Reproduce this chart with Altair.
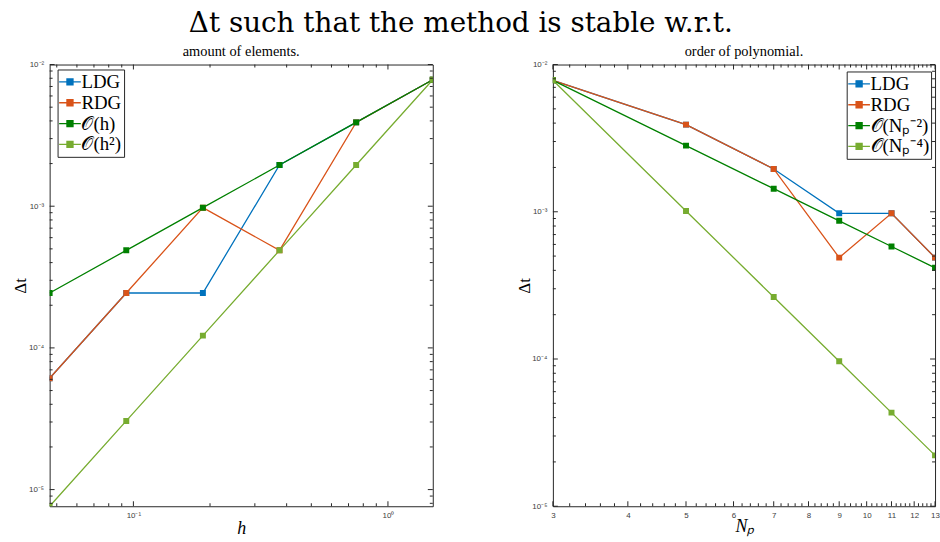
import altair as alt
import pandas as pd

# ---------------- data ----------------
h_vals = [0.046875, 0.09375, 0.1875, 0.375, 0.75, 1.5]
ldg_h = [6.1035e-5, 2.4414e-4, 2.4414e-4, 1.9531e-3, 3.9063e-3, 7.8125e-3]
rdg_h = [6.1035e-5, 2.4414e-4, 9.7656e-4, 4.8828e-4, 3.9063e-3, 7.8125e-3]
oh_h = [2.4414e-4, 4.8828e-4, 9.7656e-4, 1.9531e-3, 3.9063e-3, 7.8125e-3]
oh2_h = [7.6294e-6, 3.0518e-5, 1.2207e-4, 4.8828e-4, 1.9531e-3, 7.8125e-3]

np_vals = [3, 5, 7, 9, 11, 13]
ldg_n = [7.8125e-3, 3.9063e-3, 1.9531e-3, 9.7656e-4, 9.7656e-4, 4.8828e-4]
rdg_n = [7.8125e-3, 3.9063e-3, 1.9531e-3, 4.8828e-4, 9.7656e-4, 4.8828e-4]
on2_n = [7.8125e-3, 2.8125e-3, 1.4349e-3, 8.6806e-4, 5.8110e-4, 4.1605e-4]
on4_n = [7.8125e-3, 1.0125e-3, 2.6356e-4, 9.6451e-5, 4.3222e-5, 2.2157e-5]

names_h = ["LDG", "RDG", "𝒪(h)", "𝒪(h²)"]
names_n = ["LDG", "RDG", "𝒪(Nₚ⁻²)", "𝒪(Nₚ⁻⁴)"]
colors = ["#0072BD", "#D95319", "#008000", "#77AC30"]

# tick positions
h_major = [0.1, 1.0]
h_minor = [0.05, 0.06, 0.07, 0.08, 0.09, 0.2, 0.3, 0.4, 0.5, 0.6, 0.7, 0.8, 0.9]
dt_major = [1e-5, 1e-4, 1e-3, 1e-2]
dt_minor_left = [8e-6, 9e-6] + [m * d for d in [1e-5, 1e-4, 1e-3] for m in range(2, 10)]
dt_minor_right = [m * d for d in [1e-5, 1e-4, 1e-3] for m in range(2, 10)]
n_major = [3, 4, 5, 6, 7, 8, 9, 10, 11, 12, 13]
n_minor = [round(a + b / 10, 1) for a in range(3, 13) for b in (2, 4, 6, 8)]

AX = "#262626"
LBL = "#404040"
SERIF = "Liberation Serif"
TSERIF = "DejaVu Serif"
SANS = "Liberation Sans"
SUP = "'10' + ['⁻⁶','⁻⁵','⁻⁴','⁻³','⁻²','⁻¹','⁰'][round(log(datum.value)/LN10)+6]"

W1, W2, H = 386, 385, 445


def long_df(xs, series, names):
    rows = []
    for name, ys in zip(names, series):
        for x, y in zip(xs, ys):
            rows.append({"x": x, "y": y, "s": name})
    return pd.DataFrame(rows)


def tick_layers(xs, ys, xaxis, yaxis, xmaj, xmin, ymaj, ymin, W):
    layers = []
    for vals, L in [(xmaj, 5), (xmin, 3)]:
        base = alt.Chart(pd.DataFrame({"x": vals})).mark_rule(color=AX, strokeWidth=1)
        xe = alt.X("x:Q", scale=xs, axis=xaxis)
        layers.append(base.encode(x=xe, y=alt.value(H), y2=alt.value(H - L)))
        layers.append(base.encode(x=xe, y=alt.value(0), y2=alt.value(L)))
    for vals, L in [(ymaj, 5), (ymin, 3)]:
        base = alt.Chart(pd.DataFrame({"y": vals})).mark_rule(color=AX, strokeWidth=1)
        ye = alt.Y("y:Q", scale=ys, axis=yaxis)
        layers.append(base.encode(y=ye, x=alt.value(0), x2=alt.value(L)))
        layers.append(base.encode(y=ye, x=alt.value(W), x2=alt.value(W - L)))
    return layers


def panel(xs_vals, series, names, xs, ys, xaxis, yaxis, legend_xy, title, W,
          xmaj, xmin, ymaj, ymin):
    df = long_df(xs_vals, series, names)
    legend = alt.Legend(
        title=None, orient="none", legendX=legend_xy[0], legendY=legend_xy[1],
        fillColor="white", strokeColor=AX, padding=2, rowPadding=0,
        labelFont=SERIF, labelFontSize=19, labelColor="black", labelOffset=1,
        symbolType="M-1.15,0H1.15M-0.32,-0.32H0.32V0.32H-0.32Z", symbolSize=361,
        symbolStrokeWidth=1.3,
    )
    color = alt.Color("s:N", scale=alt.Scale(domain=names, range=colors), legend=legend)
    x = alt.X("x:Q", scale=xs, axis=xaxis)
    y = alt.Y("y:Q", scale=ys, axis=yaxis)
    line = alt.Chart(df).mark_line(strokeWidth=1.3, clip=True).encode(x=x, y=y, color=color)
    pts = alt.Chart(df).mark_square(size=36, opacity=1, clip=True).encode(x=x, y=y, color=color)
    ticks = tick_layers(xs, ys, xaxis, yaxis, xmaj, xmin, ymaj, ymin, W)
    return alt.layer(line, pts, *ticks).properties(
        width=W, height=H,
        title=alt.TitleParams(title, font=SERIF, fontSize=14.5, fontWeight="normal",
                              anchor="middle", offset=1, color="black"),
    )


def yaxis():
    return alt.Axis(values=dt_major, labelExpr=SUP, ticks=False, domain=False, grid=False,
                    labelFont=SANS, labelFontSize=8, labelColor=LBL, labelPadding=6,
                    labelOverlap=False, labelFlush=False,
                    title="Δt", titleFont=SERIF, titleFontSize=17, titleFontWeight="normal",
                    titleColor="black", titleX=-29, titleY=H / 2, titleAngle=270,
                    titleAlign="center", titleBaseline="middle")


xs_l = alt.Scale(type="log", domain=[0.046875, 1.5], nice=False)
ys_l = alt.Scale(type="log", domain=[7.6294e-6, 1e-2], nice=False)
xs_r = alt.Scale(type="log", domain=[3, 13], nice=False)
ys_r = alt.Scale(type="log", domain=[1e-5, 1e-2], nice=False)

xaxis_l = alt.Axis(values=h_major, labelExpr=SUP, ticks=False, domain=False, grid=False,
                   labelFont=SANS, labelFontSize=8, labelColor=LBL, labelPadding=5,
                   labelOverlap=False, labelFlush=False,
                   title="h", titleFont=SERIF, titleFontSize=18, titleFontStyle="italic",
                   titleFontWeight="normal", titleColor="black",
                   titleX=W1 / 2, titleY=22, titleBaseline="middle")
xaxis_r = alt.Axis(values=n_major, format="d", ticks=False, domain=False, grid=False,
                   labelFont=SANS, labelFontSize=8, labelColor=LBL, labelPadding=5,
                   labelOverlap=False, labelFlush=False,
                   title="Nₚ", titleFont=SERIF, titleFontSize=18, titleFontStyle="italic",
                   titleFontWeight="normal", titleColor="black",
                   titleX=193, titleY=20, titleBaseline="middle")

left = panel(h_vals, [ldg_h, rdg_h, oh_h, oh2_h], names_h, xs_l, ys_l, xaxis_l, yaxis(),
             (8, 5), "amount of elements.", W1, h_major, h_minor, dt_major, dt_minor_left)
right = panel(np_vals, [ldg_n, rdg_n, on2_n, on4_n], names_n, xs_r, ys_r, xaxis_r, yaxis(),
              (296, 7), "order of polynomial.", W2, n_major, n_minor, dt_major, dt_minor_right)

chart = alt.hconcat(left, right, spacing=121, bounds="flush").resolve_scale(
    color="independent"
).properties(
    title=alt.TitleParams("Δt such that the method is stable w.r.t.", font=TSERIF,
                          fontSize=28, fontWeight="normal", anchor="middle", dx=-15,
                          color="black", offset=6),
    padding={"left": 11, "top": 8, "right": 0, "bottom": 0},
).configure_view(stroke=AX, strokeWidth=1)

chart.save("out.html", embed_options={"renderer": "svg", "actions": False})
